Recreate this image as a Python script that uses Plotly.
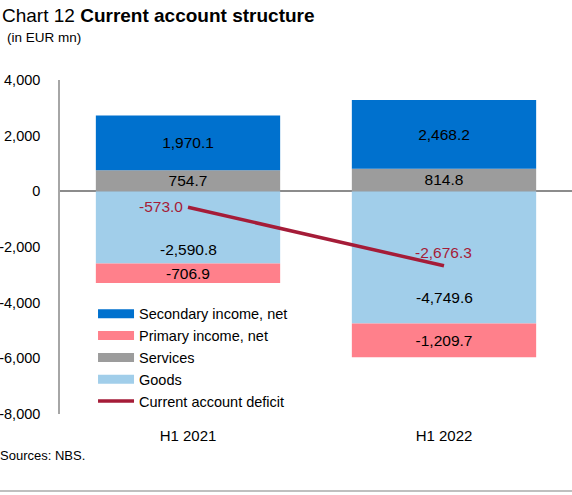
import plotly.graph_objects as go

categories = ["H1 2021", "H1 2022"]
goods = [-2590.8, -4749.6]
services = [754.7, 814.8]
primary = [-706.9, -1209.7]
secondary = [1970.1, 2468.2]
deficit = [-573.0, -2676.3]
y_ticks = [4000, 2000, 0, -2000, -4000, -6000, -8000]

FONT = "Liberation Sans, Arial, sans-serif"
fmt = lambda v: f"{v:,.1f}"
LBL = 15.5

C_GOODS, C_SERV, C_PRIM, C_SEC, C_LINE = "#A1CEEA", "#9C9C9C", "#FF808B", "#0071CE", "#A51C38"

fig = go.Figure()
fig.add_bar(x=categories, y=goods, name="Goods", marker_color=C_GOODS,
            marker_line_width=0, showlegend=False, width=0.72)
fig.add_bar(x=categories, y=services, name="Services", marker_color=C_SERV,
            marker_line_width=0, showlegend=False, width=0.72,
            text=[fmt(v) for v in services], textposition="inside",
            insidetextanchor="middle", textangle=0)
fig.add_bar(x=categories, y=primary, name="Primary income, net", marker_color=C_PRIM,
            marker_line_width=0, showlegend=False, width=0.72,
            text=[fmt(v) for v in primary], textposition="inside",
            insidetextanchor="middle", textangle=0)
fig.add_bar(x=categories, y=secondary, name="Secondary income, net", marker_color=C_SEC,
            marker_line_width=0, showlegend=False, width=0.72,
            text=[fmt(v) for v in secondary], textposition="inside",
            insidetextanchor="middle", textangle=0)
fig.add_scatter(x=categories, y=deficit, name="Current account deficit", mode="lines",
                line=dict(color=C_LINE, width=3.5), legendrank=5)

# line labels
fig.add_annotation(x=categories[0], y=deficit[0], text=fmt(deficit[0]), showarrow=False,
                   xanchor="right", xshift=-3, yshift=1,
                   font=dict(size=LBL, color=C_LINE, family=FONT))
fig.add_annotation(x=categories[1], y=deficit[1], text=fmt(deficit[1]), showarrow=False,
                   xanchor="center", xshift=-1, yshift=13,
                   font=dict(size=LBL, color=C_LINE, family=FONT))

# legend-only swatches (wide rectangles as in the reference)
for name, col, rank in [("Secondary income, net", C_SEC, 1), ("Primary income, net", C_PRIM, 2),
                        ("Services", C_SERV, 3), ("Goods", C_GOODS, 4)]:
    fig.add_scatter(x=[None], y=[None], mode="lines", name=name,
                    line=dict(color=col, width=9), legendrank=rank, hoverinfo="skip")

for c, v in zip(categories, goods):
    fig.add_annotation(x=c, y=v * 0.8, text=fmt(v), showarrow=False,
                       font=dict(size=LBL, color="#000", family=FONT))

fig.update_traces(selector=dict(type="bar"),
                  textfont=dict(size=LBL, color="#000", family=FONT))

fig.update_layout(
    width=572, height=495,
    margin=dict(l=60, r=0, t=80, b=81),
    barmode="relative",
    uniformtext=dict(minsize=LBL, mode="show"),
    plot_bgcolor="white", paper_bgcolor="white",
    font=dict(family=FONT, size=15, color="#000"),
    showlegend=True,
    legend=dict(x=0.0645, y=0.348, xanchor="left", yanchor="top",
                bgcolor="rgba(0,0,0,0)", font=dict(size=14.5, family=FONT),
                itemwidth=36, tracegroupgap=0, traceorder="normal"),
    xaxis=dict(showline=False, ticks="", tickfont=dict(size=15), range=[-0.5, 1.5],
               ticklabelstandoff=11, automargin=False),
    yaxis=dict(range=[-8000, 4000], tickmode="array", tickvals=y_ticks,
               ticktext=[f"{v:,}" for v in y_ticks], showgrid=False,
               showline=True, linecolor="#A6A6A6", linewidth=1.5,
               zeroline=True, zerolinecolor="#8C8C8C", zerolinewidth=1.5,
               ticks="", ticklabelstandoff=15, tickfont=dict(size=14.5),
               automargin=False),
    title=None,
)

fig.add_annotation(xref="paper", yref="paper", x=-60/512, y=1 + (80 - 15) / 334,
                   xanchor="left", yanchor="middle", showarrow=False,
                   text="Chart 12 <b>Current account structure</b>",
                   font=dict(size=19, family=FONT, color="#000"))
fig.add_annotation(xref="paper", yref="paper", x=-55/512, y=1 + (80 - 37) / 334,
                   xanchor="left", yanchor="middle", showarrow=False,
                   text="(in EUR mn)", font=dict(size=13.5, family=FONT, color="#000"))
fig.add_annotation(xref="paper", yref="paper", x=-62/512, y=-(455 - 414) / 334,
                   xanchor="left", yanchor="middle", showarrow=False,
                   text="Sources: NBS.", font=dict(size=13, family=FONT, color="#000"))
fig.add_shape(type="line", xref="paper", yref="paper", x0=-60/512, x1=1,
              y0=-(491 - 414) / 334, y1=-(491 - 414) / 334,
              line=dict(color="#BFBFBF", width=2))

fig.write_html("out.html", config={"displayModeBar": False},
               post_script="document.body.style.margin='0';")
